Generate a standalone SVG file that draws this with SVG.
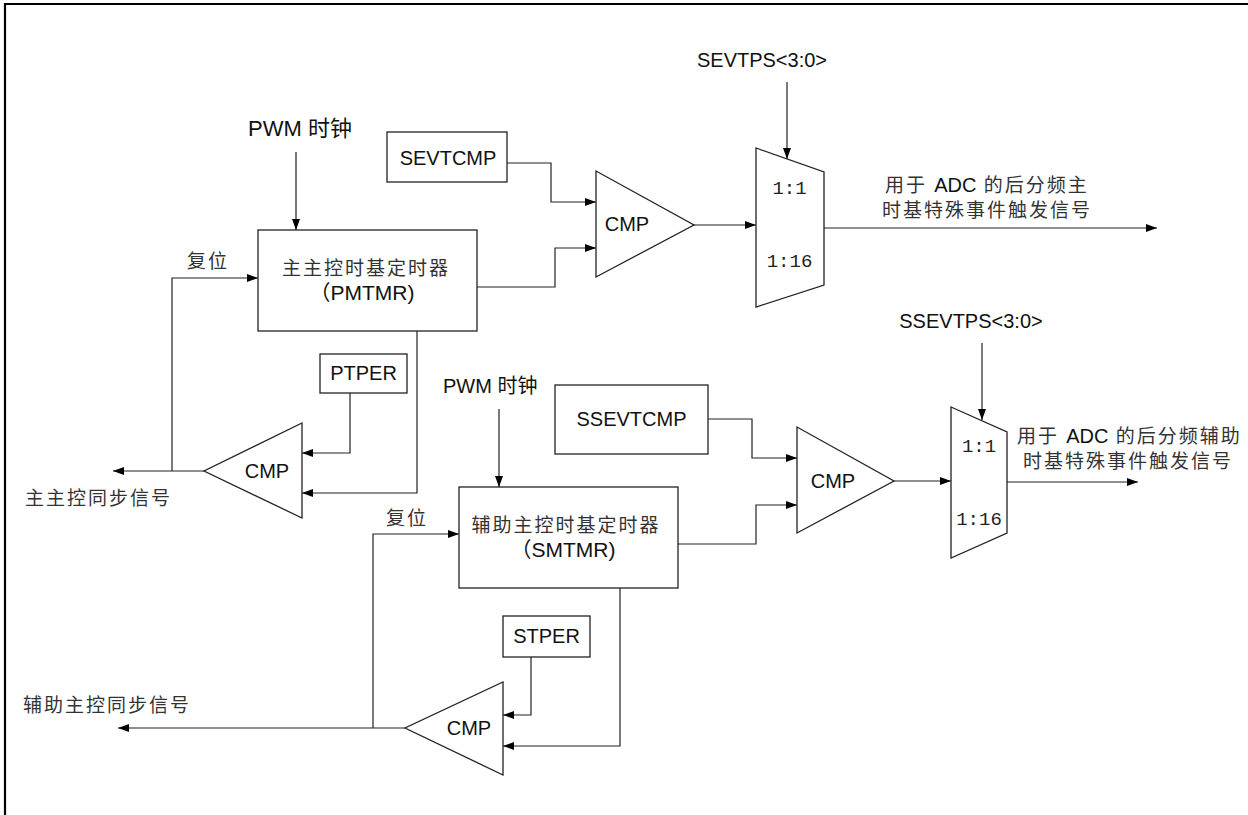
<svg xmlns="http://www.w3.org/2000/svg" width="1248" height="815" viewBox="0 0 1248 815">
<defs>
<marker id="arr" markerWidth="11" markerHeight="8" refX="11" refY="4" orient="auto" markerUnits="userSpaceOnUse">
<path d="M0,0 L11,4 L0,8 z" fill="#000"/>
</marker>
<style>
.box{fill:#fff;stroke:#222;stroke-width:1.3}
.wire{fill:none;stroke:#222;stroke-width:1.2;marker-end:url(#arr)}
.lat{font-family:"Liberation Sans","Noto Sans CJK SC",sans-serif;font-size:20px;fill:#111}
.cjk{font-family:"Liberation Sans","Noto Sans CJK SC",sans-serif;font-size:19px;letter-spacing:2px;fill:#333}
.cjk .l{letter-spacing:0;fill:#111;font-size:20px}
.mono{font-family:"Liberation Mono",monospace;font-size:19px;fill:#222}
.big{font-family:"Liberation Sans","Noto Sans CJK SC",sans-serif;font-size:21px;fill:#111}
</style>
</defs>
<rect width="1248" height="815" fill="#fff"/>
<path d="M1248,4 H5 V815" fill="none" stroke="#000" stroke-width="2.2"/>

<g id="connectors">
<path class="wire" d="M296,152 V230"/>
<path class="wire" d="M172,471 V278 H258"/>
<path class="wire" d="M417,331 V493 H302"/>
<path class="wire" d="M350,393 V453 H302"/>
<path class="wire" d="M204,471 H113"/>
<path class="wire" d="M507,163 H551 V202 H596"/>
<path class="wire" d="M477,287 H555 V248 H596"/>
<path class="wire" d="M694,225 H756"/>
<path class="wire" d="M787,82 V159"/>
<path class="wire" d="M824,228 H1157"/>
<path class="wire" d="M499,409 V487"/>
<path class="wire" d="M373,728 V534 H459"/>
<path class="wire" d="M620,588 V746 H503"/>
<path class="wire" d="M531,657 V715 H503"/>
<path class="wire" d="M405,728 H118"/>
<path class="wire" d="M708,419 H752 V458 H797"/>
<path class="wire" d="M678,544 H756 V505 H797"/>
<path class="wire" d="M894,481 H951"/>
<path class="wire" d="M982,343 V420"/>
<path class="wire" d="M1007,482 H1138"/>
</g>

<g id="pwm-clk-1"><text class="lat" x="248" y="136" style="font-size:22px">PWM 时钟</text></g>
<g id="reset-1"><text class="cjk" x="187" y="268">复位</text></g>
<g id="pmtmr">
<rect class="box" x="258" y="230" width="219" height="101"/>
<text class="cjk" x="366" y="275" text-anchor="middle">主主控时基定时器</text>
<text class="big" x="362" y="300" text-anchor="middle">（PMTMR)</text>
</g>
<g id="ptper">
<rect class="box" x="320" y="354" width="87" height="39"/>
<text class="lat" x="363.5" y="380" text-anchor="middle">PTPER</text>
</g>
<g id="cmp-1">
<polygon class="box" points="302,423 302,518 204,471"/>
<text class="lat" x="267" y="478" text-anchor="middle">CMP</text>
</g>
<g id="sync-1"><text class="cjk" x="25" y="505">主主控同步信号</text></g>
<g id="sevtcmp">
<rect class="box" x="387" y="132" width="120" height="50"/>
<text class="lat" x="448" y="165" text-anchor="middle">SEVTCMP</text>
</g>
<g id="cmp-2">
<polygon class="box" points="596,171 596,277 694,225"/>
<text class="lat" x="627" y="231" text-anchor="middle">CMP</text>
</g>
<g id="sevtps"><text class="lat" x="762" y="67" text-anchor="middle">SEVTPS&lt;3:0&gt;</text></g>
<g id="mux-1">
<polygon class="box" points="756,148 824,172 824,285 756,307"/>
<text class="mono" x="789.5" y="194" text-anchor="middle">1:1</text>
<text class="mono" x="789.5" y="267" text-anchor="middle">1:16</text>
</g>
<g id="out-1">
<text class="cjk" x="885" y="192">用于 <tspan class="l">ADC</tspan> 的后分频主</text>
<text class="cjk" x="882" y="217">时基特殊事件触发信号</text>
</g>

<g id="pwm-clk-2"><text class="lat" x="443" y="393">PWM 时钟</text></g>
<g id="reset-2"><text class="cjk" x="386" y="525">复位</text></g>
<g id="smtmr">
<rect class="box" x="459" y="487" width="219" height="101"/>
<text class="cjk" x="566" y="532" text-anchor="middle">辅助主控时基定时器</text>
<text class="big" x="563" y="557" text-anchor="middle">（SMTMR)</text>
</g>
<g id="stper">
<rect class="box" x="503" y="616" width="87" height="41"/>
<text class="lat" x="546.5" y="643" text-anchor="middle">STPER</text>
</g>
<g id="cmp-3">
<polygon class="box" points="503,682 503,775 405,728"/>
<text class="lat" x="469" y="735" text-anchor="middle">CMP</text>
</g>
<g id="sync-2"><text class="cjk" x="23" y="712">辅助主控同步信号</text></g>
<g id="ssevtcmp">
<rect class="box" x="555" y="385" width="153" height="69"/>
<text class="lat" x="631.5" y="426" text-anchor="middle">SSEVTCMP</text>
</g>
<g id="cmp-4">
<polygon class="box" points="797,427 797,533 894,481"/>
<text class="lat" x="833" y="488" text-anchor="middle">CMP</text>
</g>
<g id="ssevtps"><text class="lat" x="971" y="328" text-anchor="middle">SSEVTPS&lt;3:0&gt;</text></g>
<g id="mux-2">
<polygon class="box" points="951,407 1007,432 1007,533 951,558"/>
<text class="mono" x="979" y="452" text-anchor="middle">1:1</text>
<text class="mono" x="979" y="525" text-anchor="middle">1:16</text>
</g>
<g id="out-2">
<text class="cjk" x="1017" y="443">用于 <tspan class="l">ADC</tspan> 的后分频辅助</text>
<text class="cjk" x="1023" y="468">时基特殊事件触发信号</text>
</g>
</svg>
